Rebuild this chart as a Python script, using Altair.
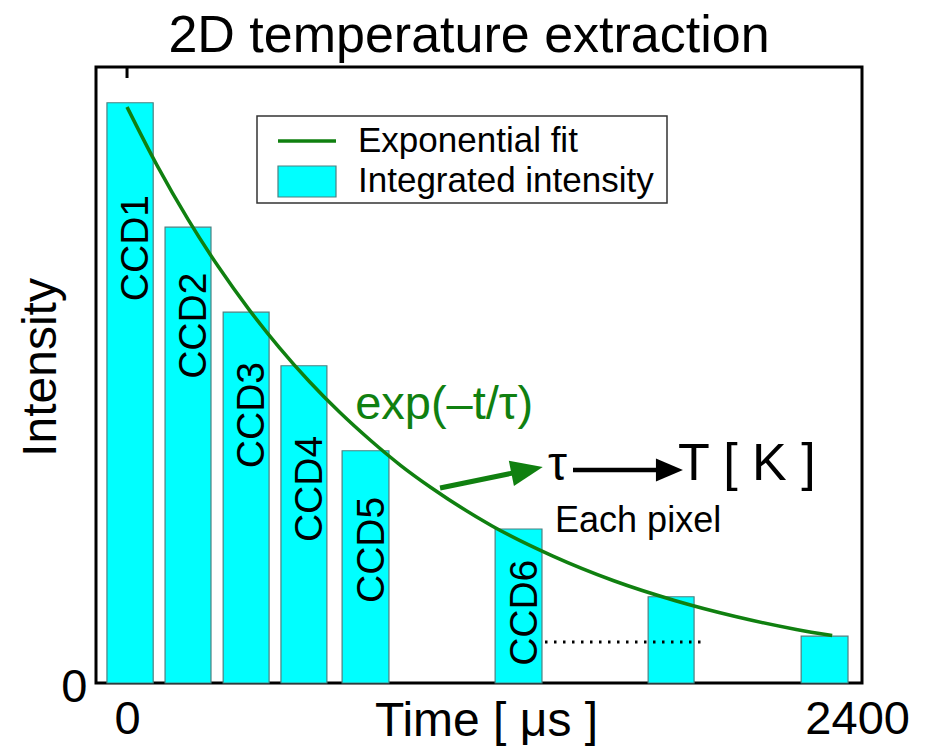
import altair as alt
import pandas as pd

# ---------------- data ----------------
bar_names = ["CCD1", "CCD2", "CCD3", "CCD4", "CCD5", "CCD6", "CCD7", "CCD8"]
bar_start = [-66, 125, 316, 506, 707, 1210, 1713, 2216]      # time [us]
bar_end = [86, 276, 467, 657, 861, 1364, 1864, 2370]          # time [us]
bar_intensity = [0.942, 0.740, 0.602, 0.515, 0.377, 0.250, 0.140, 0.076]

label_text = ["CCD1", "CCD2", "CCD3", "CCD4", "CCD5", "CCD6"]
label_level = [0.706, 0.580, 0.435, 0.315, 0.216, 0.114]

fit_time = [0, 100, 200, 300, 400, 500, 600, 700, 800, 900, 1000,
            1200, 1400, 1600, 1800, 2000, 2200, 2318]
fit_value = [0.935, 0.839, 0.753, 0.676, 0.607, 0.545, 0.489, 0.439, 0.394,
             0.353, 0.317, 0.255, 0.206, 0.166, 0.134, 0.108, 0.087, 0.077]

x_ticks = [0, 2400]
y_ticks = [0]

chart_title = "2D temperature extraction"
legend_labels = ["Exponential fit", "Integrated intensity"]

# annotation anchors (data coordinates)
dotted_t = [1374, 1890]
dotted_v = [0.0666]
green_arrow_t = [1029, 1315]
green_arrow_v = [0.3166, 0.3455]
black_arrow_t = [1466, 1783]
black_arrow_v = [0.3458]
exp_pos = [750, 0.4286]
tau_pos = [1384, 0.3295]
temp_pos = [1811, 0.3295]
pixel_pos = [1407, 0.2451]

# ---------------- styling ----------------
FONT = "Liberation Sans, Arial, Helvetica, sans-serif"
GREEN = "#108010"
CYAN = "#00FFFF"
EDGE = "#4d8080"

xscale = alt.Scale(domain=[-102, 2416], nice=False, zero=False)
yscale = alt.Scale(domain=[0, 1], nice=False, zero=False)
xaxis = alt.Axis(values=x_ticks, format="d", title="Time [ μs ]", grid=False, ticks=False,
                 tickSize=0, domain=False, labelFontSize=47, labelPadding=13,
                 labelFlush=False, labelOverlap=False,
                 titleFontSize=48, titleX=390, titleY=52,
                 titleBaseline="alphabetic", titleAlign="center")
yaxis = alt.Axis(values=y_ticks, format="d", title="Intensity", grid=False, ticks=False,
                 tickSize=0, domain=False, labelFontSize=47, labelPadding=9,
                 labelOffset=4, labelFlush=False,
                 titleFontSize=48, titleAngle=270, titleX=-41, titleY=300,
                 titleBaseline="alphabetic", titleAlign="center")


def X(f):
    return alt.X(f, type="quantitative", scale=xscale, axis=xaxis)


def Y(f):
    return alt.Y(f, type="quantitative", scale=yscale, axis=yaxis)


df_bars = pd.DataFrame({"name": bar_names, "start": bar_start,
                        "end": bar_end, "intensity": bar_intensity,
                        "base": [0] * len(bar_names)})
df_labels = pd.DataFrame({
    "label": label_text,
    "center": [(s + e) / 2 for s, e in zip(bar_start[:6], bar_end[:6])],
    "level": label_level,
})
df_fit = pd.DataFrame({"t": fit_time, "v": fit_value})

bars = alt.Chart(df_bars).mark_rect(
    fill=CYAN, stroke=EDGE, strokeWidth=1.2, opacity=1
).encode(x=X("start"), x2="end", y=Y("intensity"), y2="base")

labels = alt.Chart(df_labels).mark_text(
    angle=270, align="center", baseline="middle", dy=6,
    fontSize=39, font=FONT, color="black"
).encode(x=X("center"), y=Y("level"), text="label:N")

fit = alt.Chart(df_fit).mark_line(
    color=GREEN, strokeWidth=3.5, interpolate="monotone"
).encode(x=X("t"), y=Y("v"))

dotted = alt.Chart(pd.DataFrame({"t1": [dotted_t[0]], "t2": [dotted_t[1]],
                                 "v": dotted_v})).mark_rule(
    color="black", strokeWidth=3, strokeDash=[2.5, 6.5]
).encode(x=X("t1"), x2="t2", y=Y("v"))

g_shaft = alt.Chart(pd.DataFrame({"t1": [green_arrow_t[0]], "t2": [green_arrow_t[1]],
                                  "v1": [green_arrow_v[0]], "v2": [green_arrow_v[1]]})).mark_rule(
    color=GREEN, strokeWidth=5
).encode(x=X("t1"), x2="t2", y=Y("v1"), y2="v2")
g_head = alt.Chart(pd.DataFrame({"t": [green_arrow_t[1]], "v": [green_arrow_v[1]]})).mark_point(
    shape="M-1,-0.8L1,0L-1,0.8Z", filled=True, size=1024, angle=348.5,
    color=GREEN, opacity=1, strokeWidth=0
).encode(x=X("t"), y=Y("v"))

b_shaft = alt.Chart(pd.DataFrame({"t1": [black_arrow_t[0]], "t2": [black_arrow_t[1]],
                                  "v": black_arrow_v})).mark_rule(
    color="black", strokeWidth=4.5
).encode(x=X("t1"), x2="t2", y=Y("v"))
b_head = alt.Chart(pd.DataFrame({"t": [black_arrow_t[1]], "v": black_arrow_v})).mark_point(
    shape="M-1,-0.85L1,0L-1,0.85Z", filled=True, size=729,
    color="black", opacity=1, strokeWidth=0
).encode(x=X("t"), y=Y("v"))


def note(txt, pos, size, color="black"):
    return alt.Chart(pd.DataFrame({"t": [pos[0]], "v": [pos[1]], "s": [txt]})).mark_text(
        align="left", baseline="alphabetic", fontSize=size, font=FONT, color=color
    ).encode(x=X("t"), y=Y("v"), text="s:N")


exp_txt = note("exp(–t/τ)", exp_pos, 47, GREEN)
tau_txt = note("τ", tau_pos, 48)
temp_txt = note("T [ K ]", temp_pos, 52)
pixel_txt = note("Each pixel", pixel_pos, 36)

top_tick = alt.Chart(pd.DataFrame({"t": [0]})).mark_rule(
    color="black", strokeWidth=3
).encode(x=X("t"), y=alt.value(0), y2=alt.value(11))

one = pd.DataFrame({"k": [0]})
title_txt = alt.Chart(one).mark_text(align="center", baseline="alphabetic", fontSize=52,
                                     font=FONT, color="black").encode(
    x=alt.value(373), y=alt.value(-15), text=alt.value(chart_title))
leg_box = alt.Chart(one).mark_rect(fill="white", stroke="#333333", strokeWidth=1.5).encode(
    x=alt.value(161), x2=alt.value(571), y=alt.value(49), y2=alt.value(136))
leg_line = alt.Chart(one).mark_rule(color=GREEN, strokeWidth=3.5).encode(
    x=alt.value(182), x2=alt.value(240), y=alt.value(74))
leg_patch = alt.Chart(one).mark_rect(fill=CYAN, stroke=EDGE, strokeWidth=1.2).encode(
    x=alt.value(182), x2=alt.value(240), y=alt.value(99), y2=alt.value(130))
leg_t1 = alt.Chart(one).mark_text(align="left", baseline="alphabetic", fontSize=35,
                                  font=FONT, color="black").encode(
    x=alt.value(262), y=alt.value(85), text=alt.value(legend_labels[0]))
leg_t2 = alt.Chart(one).mark_text(align="left", baseline="alphabetic", fontSize=35,
                                  font=FONT, color="black").encode(
    x=alt.value(262), y=alt.value(125), text=alt.value(legend_labels[1]))

chart = alt.layer(
    bars, labels, fit, dotted, g_shaft, g_head, b_shaft, b_head,
    exp_txt, tau_txt, temp_txt, pixel_txt, top_tick, title_txt,
    leg_box, leg_line, leg_patch, leg_t1, leg_t2,
).properties(
    width=766, height=616,
    autosize=alt.AutoSizeParams(type="none"),
    padding={"left": 96, "top": 67, "right": 67, "bottom": 66},
    background="white",
).configure_view(
    stroke="black", strokeWidth=3
).configure_axis(
    labelFont=FONT, titleFont=FONT, labelColor="black", titleColor="black",
    titleFontWeight="normal"
)

chart.save("out.html", embed_options={"renderer": "svg", "actions": False})
